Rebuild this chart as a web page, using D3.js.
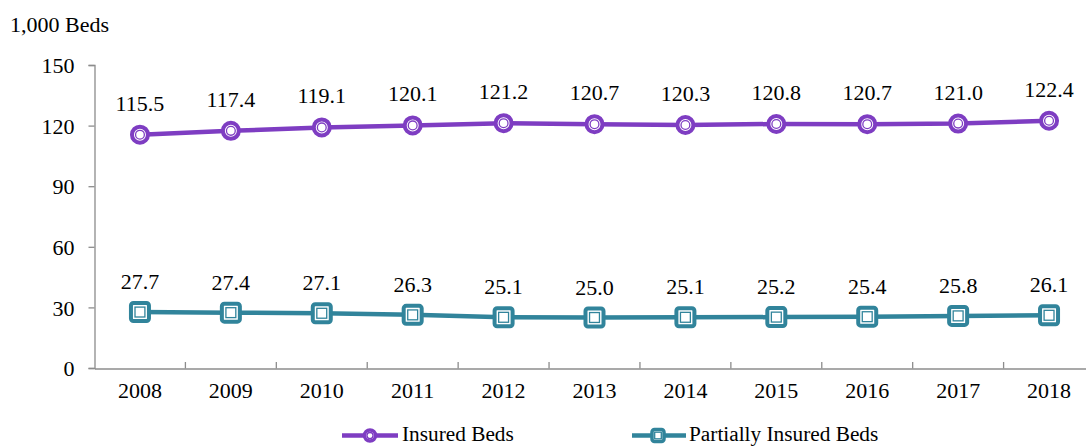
<!DOCTYPE html>
<html><head><meta charset="utf-8">
<script src="https://cdn.jsdelivr.net/npm/d3@7"></script>
<style>body{margin:0;background:#fff}text{font-family:"Liberation Serif","Times New Roman",serif !important}</style>
</head><body><svg id="c" width="1086" height="446" font-family="Liberation Serif"></svg>
<script>
const years = ["2008","2009","2010","2011","2012","2013","2014","2015","2016","2017","2018"];
const insuredBeds = [115.5,117.4,119.1,120.1,121.2,120.7,120.3,120.8,120.7,121.0,122.4];
const partialBeds = [27.7,27.4,27.1,26.3,25.1,25.0,25.1,25.2,25.4,25.8,26.1];
const yTicks = [0,30,60,90,120,150];
const unitLabel = "1,000 Beds";
const seriesNames = ["Insured Beds","Partially Insured Beds"];

const purple = "#7E3DC2", teal = "#31849B", axisCol = "#8c8c8c";
const FF = "Liberation Serif";
const svg = d3.select("#c");
const x = d3.scaleBand().domain(years).range([94.5, 1094.5]);
const y = d3.scaleLinear().domain([0,150]).range([368, 65]);
const fs = 22;

// axes
const yAx = svg.append("g").attr("transform","translate(94.5,0)")
  .call(d3.axisLeft(y).tickValues(yTicks).tickSize(6).tickPadding(14));
yAx.attr("font-family",FF).attr("font-size",fs);
yAx.select(".domain").attr("stroke",axisCol).attr("stroke-width",1.3);
yAx.selectAll(".tick line").attr("stroke",axisCol).attr("stroke-width",1.3);
yAx.selectAll("text").attr("fill","#000").attr("dy","0.35em");

const xAx = svg.append("g").attr("transform","translate(0,368.5)")
  .call(d3.axisBottom(x).tickSize(0).tickPadding(14).tickSizeOuter(0));
xAx.attr("font-family",FF).attr("font-size",fs);
xAx.select(".domain").attr("stroke",axisCol).attr("stroke-width",1.3);
xAx.selectAll("text").attr("fill","#000");
// category separator ticks
svg.append("g").selectAll("line").data(years).join("line")
  .attr("x1",(d,i)=>94.5 + x.step()*(i+1)).attr("x2",(d,i)=>94.5 + x.step()*(i+1))
  .attr("y1",368.5).attr("y2",362).attr("stroke",axisCol).attr("stroke-width",1.3);

svg.append("text").attr("x",10).attr("y",32).attr("font-size",fs).text(unitLabel);

const cx = d => x(d) + x.bandwidth()/2;
const line = d3.line().x((d,i)=>cx(years[i])).y(d=>y(d));

function circleMarker(g, px, py, r, sw){
  g.append("circle").attr("cx",px).attr("cy",py).attr("r",r).attr("fill","#fff").attr("stroke",purple).attr("stroke-width",sw||4);
  g.append("circle").attr("cx",px).attr("cy",py).attr("r",r*0.55).attr("fill","#fff").attr("stroke",purple).attr("stroke-width",1.3);
}
function squareMarker(g, px, py, s, sw){
  g.append("rect").attr("x",px-s/2).attr("y",py-s/2).attr("width",s).attr("height",s).attr("rx",2.5)
    .attr("fill","#fff").attr("stroke",teal).attr("stroke-width",sw||4);
  const t = s*0.55;
  g.append("rect").attr("x",px-t/2).attr("y",py-t/2).attr("width",t).attr("height",t)
    .attr("fill","#fff").attr("stroke",teal).attr("stroke-width",1.3);
}

// series
svg.append("path").datum(insuredBeds).attr("d",line).attr("fill","none").attr("stroke",purple).attr("stroke-width",4.5);
svg.append("path").datum(partialBeds).attr("d",line).attr("fill","none").attr("stroke",teal).attr("stroke-width",4.5);
const mg = svg.append("g");
insuredBeds.forEach((v,i)=>circleMarker(mg, cx(years[i]), y(v), 8));
partialBeds.forEach((v,i)=>squareMarker(mg, cx(years[i]), y(v), 18));

svg.append("g").selectAll("text").data(insuredBeds).join("text")
  .attr("x",(d,i)=>cx(years[i])).attr("y",d=>y(d)-24).attr("text-anchor","middle").attr("font-size",fs)
  .text(d=>d.toFixed(1));
svg.append("g").selectAll("text").data(partialBeds).join("text")
  .attr("x",(d,i)=>cx(years[i])).attr("y",d=>y(d)-23).attr("text-anchor","middle").attr("font-size",fs)
  .text(d=>d.toFixed(1));

// legend
const ly = 435.5, lfs = 21.3;
const lg = svg.append("g");
lg.append("line").attr("x1",342).attr("x2",398).attr("y1",ly).attr("y2",ly).attr("stroke",purple).attr("stroke-width",4.5);
circleMarker(lg, 370, ly, 5.5, 3.5);
lg.append("text").attr("x",402).attr("y",441).attr("font-size",lfs).text(seriesNames[0]);
lg.append("line").attr("x1",632).attr("x2",686).attr("y1",ly).attr("y2",ly).attr("stroke",teal).attr("stroke-width",4.5);
squareMarker(lg, 658, ly, 12, 3.5);
lg.append("text").attr("x",689).attr("y",441).attr("font-size",lfs).text(seriesNames[1]);
</script></body></html>
